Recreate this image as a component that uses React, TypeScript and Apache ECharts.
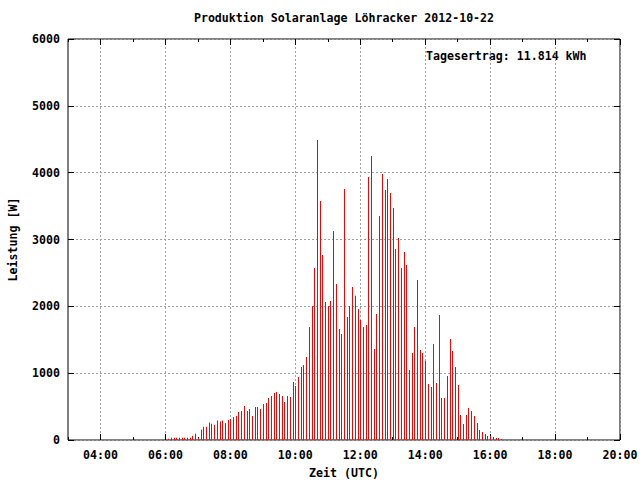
import React, { useEffect, useRef } from "react";
import * as echarts from "echarts";

const times: string[] = [
  "06:05", "06:10", "06:15", "06:20", "06:25", "06:30", "06:35", "06:40", "06:45", "06:50", "06:55",
  "07:00", "07:05", "07:10", "07:15", "07:20", "07:25", "07:30", "07:35", "07:40", "07:45", "07:50", "07:55",
  "08:00", "08:05", "08:10", "08:15", "08:20", "08:25", "08:30", "08:35", "08:40", "08:45", "08:50", "08:55",
  "09:00", "09:05", "09:10", "09:15", "09:20", "09:25", "09:30", "09:35", "09:40", "09:45", "09:50", "09:55",
  "10:00", "10:05", "10:10", "10:15", "10:20", "10:25", "10:30", "10:35", "10:40", "10:45", "10:50", "10:55",
  "11:00", "11:05", "11:10", "11:15", "11:20", "11:25", "11:30", "11:35", "11:40", "11:45", "11:50", "11:55",
  "12:00", "12:05", "12:10", "12:15", "12:20", "12:25", "12:30", "12:35", "12:40", "12:45", "12:50", "12:55",
  "13:00", "13:05", "13:10", "13:15", "13:20", "13:25", "13:30", "13:35", "13:40", "13:45", "13:50", "13:55",
  "14:00", "14:05", "14:10", "14:15", "14:20", "14:25", "14:30", "14:35", "14:40", "14:45", "14:50", "14:55",
  "15:00", "15:05", "15:10", "15:15", "15:20", "15:25", "15:30", "15:35", "15:40", "15:45", "15:50", "15:55",
  "16:00", "16:05", "16:10", "16:15", "16:20",
];

const power: number[] = [
  20, 35, 35, 35, 35, 35, 35, 35, 35, 65, 95,
  35, 155, 200, 200, 260, 245, 230, 290, 275, 290, 255, 300,
  315, 345, 360, 420, 435, 510, 435, 465, 360, 495, 495, 465,
  540, 555, 630, 660, 705, 720, 690, 658, 569, 658, 643, 868,
  808, 943, 1092, 1122, 1242, 1691, 2005, 2574, 4489, 3576, 2768, 2065,
  2005, 2080, 3127, 2334, 1661, 1586, 3756, 1840, 2005, 2289, 2160, 1960,
  1796, 1691, 1721, 3935, 4250, 1362, 1885, 3352, 3980, 3741, 3905, 3696,
  3471, 2858, 3023, 2574, 2813, 2619, 1047, 1302, 1691, 2394, 1347, 1302,
  1182, 838, 793, 1436, 853, 1870, 628, 628, 958, 1511, 1332, 1092,
  823, 374, 239, 374, 479, 434, 359, 254, 150, 120, 90, 60,
  60, 45, 30, 30, 15,
];

const majorHours: number[] = [4, 6, 8, 10, 12, 14, 16, 18, 20];
const titleText = "Produktion Solaranlage Löhracker 2012-10-22";
const yieldText = "Tagesertrag: 11.814 kWh";

const FONT = "'DejaVu Sans Mono', 'Liberation Mono', monospace";
const FS = 11.6;

function toHours(t: string): number {
  const [h, m] = t.split(":").map(Number);
  return h + m / 60;
}

function fmtHour(v: number): string {
  const h = Math.round(v);
  return (h < 10 ? "0" : "") + h + ":00";
}

export default function App() {
  const ref = useRef<HTMLDivElement>(null);
  useEffect(() => {
    if (!ref.current) return;
    const chart = echarts.init(ref.current, null, { renderer: "svg" });
    const data = times.map((t, i) => [toHours(t), power[i]]);
    const textStyle = { fontFamily: FONT, fontSize: FS, fontWeight: "bold" as const, color: "#000" };
    const grid = "#a0a0a0";
    chart.setOption({
      animation: false,
      backgroundColor: "#fff",
      grid: {
        left: 68, right: 20, top: 39, bottom: 40,
        containLabel: false, outerBoundsMode: "none",
        show: true, borderColor: "#000", borderWidth: 1, backgroundColor: "transparent",
      },
      graphic: [
        {
          type: "text", x: 344, y: 18,
          style: { text: titleText, fontFamily: FONT, fontSize: FS, fontWeight: "bold", fill: "#000", textAlign: "center", textVerticalAlign: "middle" },
        },
        {
          type: "text", x: 426, y: 56,
          style: { text: yieldText, fontFamily: FONT, fontSize: FS, fontWeight: "bold", fill: "#000", textAlign: "left", textVerticalAlign: "middle" },
        },
      ],
      xAxis: [
        {
          type: "value", position: "bottom", min: 3, max: 20,
          axisLine: { show: false },
          axisTick: { show: true, inside: true, length: 6, customValues: majorHours, lineStyle: { color: "#000" } },
          axisLabel: { customValues: majorHours, formatter: (v: number) => fmtHour(v), margin: 9, ...textStyle },
          splitLine: { show: true, lineStyle: { color: grid, type: [2, 2], width: 1 } },
          name: "Zeit (UTC)", nameLocation: "middle", nameGap: 27, nameTextStyle: textStyle,
        },
        {
          type: "value", position: "bottom", min: 3, max: 20, interval: 1,
          axisLine: { show: false },
          axisTick: { show: true, inside: true, length: 3, lineStyle: { color: "#000" } },
          axisLabel: { show: false }, splitLine: { show: false },
        },
        {
          type: "value", position: "top", min: 3, max: 20,
          axisLine: { show: false },
          axisTick: { show: true, inside: true, length: 6, customValues: majorHours, lineStyle: { color: "#000" } },
          axisLabel: { show: false }, splitLine: { show: false },
        },
        {
          type: "value", position: "top", min: 3, max: 20, interval: 1,
          axisLine: { show: false },
          axisTick: { show: true, inside: true, length: 3, lineStyle: { color: "#000" } },
          axisLabel: { show: false }, splitLine: { show: false },
        },
      ],
      yAxis: [
        {
          type: "value", position: "left", min: 0, max: 6000, interval: 1000,
          axisLine: { show: false },
          axisTick: { show: true, inside: true, length: 6, lineStyle: { color: "#000" } },
          axisLabel: { margin: 8, formatter: (v: number) => String(v), ...textStyle },
          splitLine: { show: true, lineStyle: { color: grid, type: [2, 2], width: 1 } },
          name: "Leistung [W]", nameLocation: "middle", nameGap: 49, nameRotate: 90, nameTextStyle: textStyle,
        },
        {
          type: "value", position: "right", min: 0, max: 6000, interval: 1000,
          axisLine: { show: false },
          axisTick: { show: true, inside: true, length: 6, lineStyle: { color: "#000" } },
          axisLabel: { show: false }, splitLine: { show: false },
        },
      ],
      series: [
        {
          type: "custom",
          xAxisIndex: 0, yAxisIndex: 0,
          encode: { x: 0, y: 1 },
          data,
          renderItem: (_params: any, api: any) => {
            const x = api.value(0);
            const y = api.value(1);
            const top = api.coord([x, y]);
            const base = api.coord([x, 0]);
            const px = Math.round(top[0]);
            return {
              type: "rect",
              shape: { x: px, y: top[1], width: 1, height: base[1] - top[1] },
              style: { fill: "#ff0000", stroke: "none" },
            };
          },
        },
      ],
    });
    return () => chart.dispose();
  }, []);
  return <div ref={ref} style={{ position: "fixed", left: 0, top: 0, width: 640, height: 480 }} />;
}
